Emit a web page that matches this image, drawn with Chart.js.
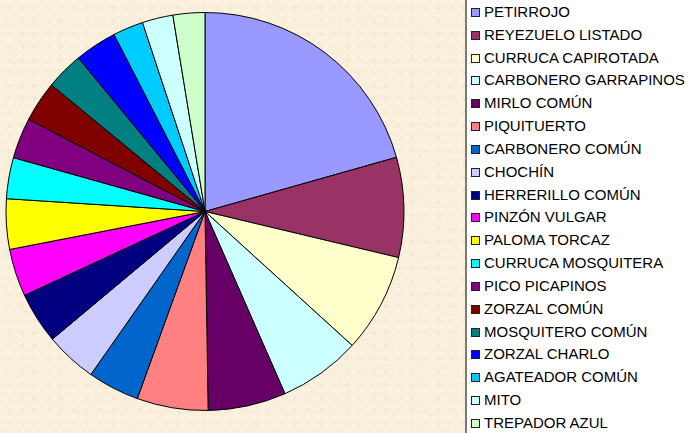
<!DOCTYPE html>
<html>
<head>
<meta charset="utf-8">
<script src="https://cdn.jsdelivr.net/npm/chart.js@4.4.0/dist/chart.umd.min.js"></script>
<style>
  html, body { margin: 0; padding: 0; }
  body {
    width: 689px; height: 433px; overflow: hidden; position: relative;
    background-color: #f9efdb;
    background-image:
      radial-gradient(circle at 20% 30%, rgba(255,255,255,0.35) 0, rgba(255,255,255,0) 3px),
      radial-gradient(circle at 70% 60%, rgba(230,215,185,0.35) 0, rgba(230,215,185,0) 3px);
    background-size: 9px 9px, 13px 13px;
  }
  #wrap { position: absolute; left: 0; top: 0; width: 410px; height: 433px; }
  #legend {
    position: absolute; left: 465px; top: -2px; width: 230px; height: 440px;
    background: #fff; border-left: 2px solid #7a7a7a; box-sizing: border-box;
    font-family: "Liberation Sans", Arial, sans-serif; font-size: 15px; color: #000;
  }
  .row { position: absolute; left: 0; height: 18px; line-height: 18px; white-space: nowrap; }
  .sq { position: absolute; left: 4px; top: 5px; width: 7px; height: 7px; border: 1px solid #222; }
  .lb { position: absolute; left: 17px; top: 0; }
</style>
</head>
<body>
<div id="wrap"><canvas id="myChart"></canvas></div>
<div id="legend"></div>
<script>
let labels = ['PETIRROJO', 'REYEZUELO LISTADO', 'CURRUCA CAPIROTADA', 'CARBONERO GARRAPINOS',
  'MIRLO COMÚN', 'PIQUITUERTO', 'CARBONERO COMÚN', 'CHOCHÍN', 'HERRERILLO COMÚN',
  'PINZÓN VULGAR', 'PALOMA TORCAZ', 'CURRUCA MOSQUITERA', 'PICO PICAPINOS', 'ZORZAL COMÚN',
  'MOSQUITERO COMÚN', 'ZORZAL CHARLO', 'AGATEADOR COMÚN', 'MITO', 'TREPADOR AZUL'];
let values = [74.2, 29.2, 28.9, 24.0, 22.8, 20.8, 15.1, 15.1, 15.0, 13.9, 14.7, 12.0, 11.9, 11.9, 11.0, 12.3, 8.9, 9.0, 9.3];
let colors = ['#9999FF', '#993366', '#FFFFCC', '#CCFFFF', '#660066', '#FF8080', '#0066CC', '#CCCCFF', '#000080',
  '#FF00FF', '#FFFF00', '#00FFFF', '#800080', '#800000', '#008080', '#0000FF', '#00CCFF', '#CCFFFF', '#CCFFCC'];

// legend on the right, white box like the excel one
let legend = document.getElementById('legend');
labels.forEach((name, i) => {
  let row = document.createElement('div');
  row.className = 'row';
  row.style.top = (2 + 12 + i * 22.83 - 9) + 'px';
  row.innerHTML = '<span class="sq" style="background:' + colors[i] + '"></span><span class="lb">' + name + '</span>';
  legend.appendChild(row);
});

let ctx = document.getElementById('myChart').getContext('2d');
let chart = new Chart(ctx, {
  type: 'pie',
  data: {
    labels: labels,
    datasets: [{
      data: values,
      backgroundColor: colors,
      borderColor: '#000',
      borderWidth: 1
    }]
  },
  options: {
    responsive: true,
    maintainAspectRatio: false,
    animation: false,
    layout: { padding: { top: 12, bottom: 22, left: 0, right: 0 } },
    plugins: {
      legend: { display: false },
      tooltip: { enabled: false }
    }
  }
});
</script>
</body>
</html>
